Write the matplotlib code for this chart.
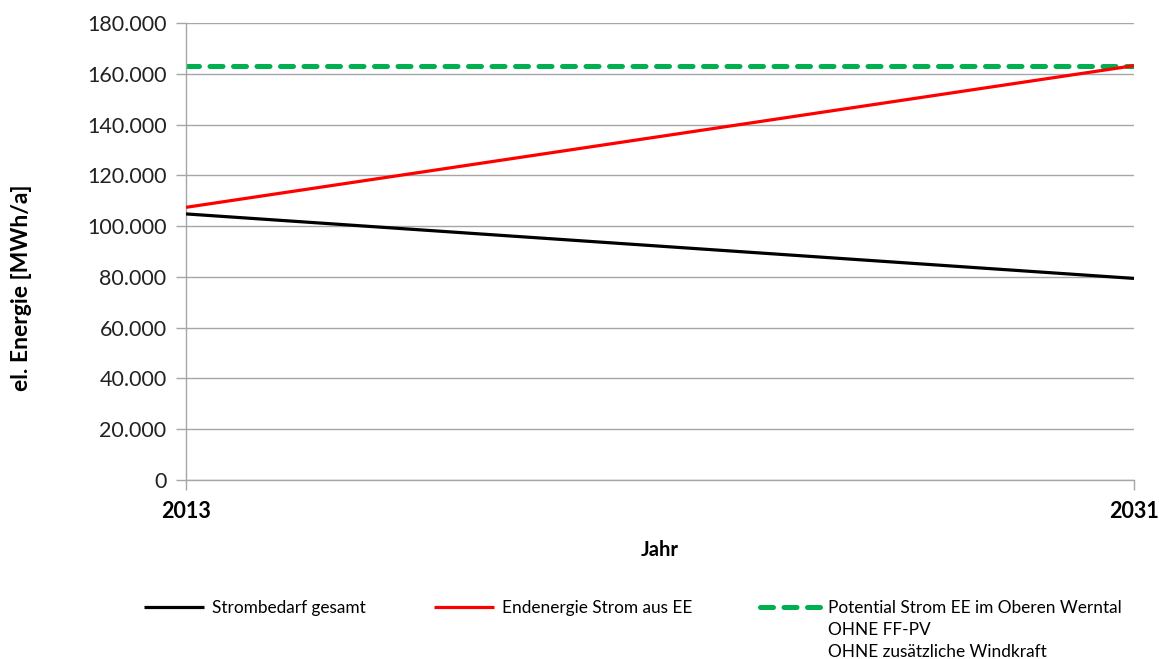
import matplotlib
matplotlib.use("Agg")
import matplotlib.pyplot as plt
from matplotlib.ticker import FuncFormatter

# Data (MWh/a)
years = [2013, 2031]
strombedarf = [104800, 79400]
endenergie_ee = [107400, 163200]
potential_ee = [163200, 163200]
y_ticks = list(range(0, 180001, 20000))

labels = [
    "Strombedarf gesamt",
    "Endenergie Strom aus EE",
    "Potential Strom EE im Oberen Werntal",
]
extra_lines = ["OHNE FF-PV", "OHNE zusätzliche Windkraft"]

plt.rcParams["font.family"] = ["Lato", "DejaVu Sans"]

W, H = 1159, 659
fig = plt.figure(figsize=(W / 100, H / 100), dpi=100)
ax = fig.add_axes([186 / W, 1 - 480 / H, (1134 - 186) / W, (480 - 23) / H])

grid_col = "#a6a6a6"
ax.plot(years, strombedarf, color="black", lw=2.3, solid_capstyle="butt", label=labels[0], zorder=3)
ax.plot(years, endenergie_ee, color="#ff0000", lw=2.3, solid_capstyle="butt", label=labels[1], zorder=3)
ax.plot(years, potential_ee, color="#00b050", lw=3.6, dashes=(2.6, 2.1),
        dash_capstyle="round", label=labels[2], zorder=2)

ax.set_xlim(years[0], years[-1])
ax.set_ylim(0, 180000)
ax.set_yticks(y_ticks)
ax.yaxis.set_major_formatter(FuncFormatter(lambda v, p: f"{int(v):,}".replace(",", ".")))
ax.set_xticks(years)
ax.set_xticklabels([str(y) for y in years], fontweight="bold", fontsize=15.5)
ax.tick_params(axis="y", labelsize=15.5, length=7, color=grid_col, width=1, pad=7, labelcolor="#222222")
ax.tick_params(axis="x", length=7, color=grid_col, width=1, pad=8)

ax.grid(axis="y", color=grid_col, lw=1)
ax.set_axisbelow(True)
for s in ["top", "right"]:
    ax.spines[s].set_visible(False)
for s in ["left", "bottom"]:
    ax.spines[s].set_color(grid_col)
    ax.spines[s].set_linewidth(1)

ax.set_xlabel("Jahr", fontweight="bold", fontsize=14.5, labelpad=13)
ax.set_ylabel("el. Energie [MWh/a]", fontweight="bold", fontsize=16.5)
ax.yaxis.set_label_coords((32 - 186) / 948, (480 - 288) / 457)

leg = fig.legend(loc="upper left", bbox_to_anchor=(137 / W, 1 - 593 / H), ncol=3,
                 frameon=False, fontsize=12.4, handlelength=3.5, handletextpad=0.45,
                 columnspacing=3.95, borderaxespad=0)

fig.canvas.draw()
t = leg.get_texts()[2]
bb = t.get_window_extent()
x0 = bb.x0 / W
for i, line in enumerate(extra_lines):
    fig.text(x0, (bb.y0 - 22 * (i + 1)) / H, line, fontsize=12.4, ha="left", va="bottom")

fig.savefig("out.png", dpi=100)
